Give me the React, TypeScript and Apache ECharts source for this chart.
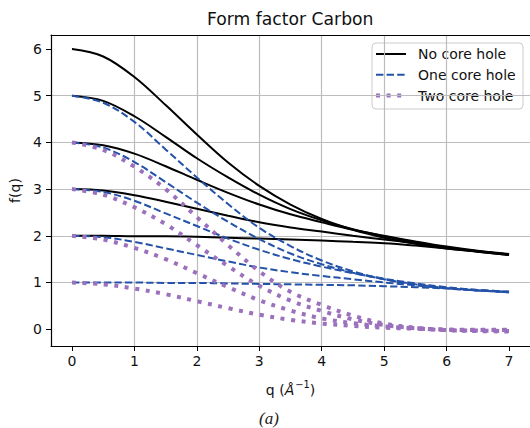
import React, { useEffect, useRef } from 'react';
import * as echarts from 'echarts';

// q grid (Å^-1)
const Q = [0, 0.5, 1, 1.5, 2, 2.5, 3, 3.5, 4, 4.5, 5, 5.5, 6, 6.5, 7];

// No core hole (1s2 + 4,3,2,1,0 valence electrons)
const noCore6 = [6.00, 5.84, 5.40, 4.80, 4.17, 3.57, 3.07, 2.67, 2.36, 2.13, 1.96, 1.83, 1.73, 1.66, 1.59];
const noCore5 = [5.00, 4.89, 4.56, 4.12, 3.66, 3.25, 2.88, 2.57, 2.33, 2.14, 1.99, 1.86, 1.75, 1.67, 1.60];
const noCore4 = [4.00, 3.94, 3.76, 3.49, 3.20, 2.92, 2.67, 2.46, 2.29, 2.13, 2.00, 1.88, 1.77, 1.68, 1.61];
const noCore3 = [3.00, 2.97, 2.87, 2.73, 2.58, 2.43, 2.29, 2.18, 2.09, 2.00, 1.92, 1.84, 1.75, 1.67, 1.60];
const noCore2 = [2.00, 2.00, 1.99, 1.99, 1.98, 1.96, 1.94, 1.92, 1.90, 1.87, 1.84, 1.79, 1.73, 1.66, 1.59];

// One core hole
const oneCore5 = [5.00, 4.85, 4.44, 3.85, 3.25, 2.68, 2.17, 1.78, 1.47, 1.24, 1.07, 0.95, 0.88, 0.83, 0.79];
const oneCore4 = [4.00, 3.89, 3.58, 3.15, 2.71, 2.30, 1.93, 1.62, 1.39, 1.21, 1.07, 0.96, 0.88, 0.83, 0.80];
const oneCore3 = [3.00, 2.94, 2.75, 2.48, 2.21, 1.94, 1.70, 1.50, 1.34, 1.20, 1.08, 0.98, 0.90, 0.84, 0.80];
const oneCore2 = [2.00, 1.97, 1.87, 1.73, 1.59, 1.45, 1.32, 1.22, 1.14, 1.07, 1.00, 0.94, 0.88, 0.84, 0.80];
const oneCore1 = [1.00, 1.00, 1.00, 0.99, 0.99, 0.98, 0.97, 0.96, 0.95, 0.94, 0.92, 0.90, 0.87, 0.83, 0.79];

// Two core hole
const twoCore4 = [4.00, 3.84, 3.48, 3.00, 2.40, 1.80, 1.24, 0.80, 0.52, 0.29, 0.12, 0.03, -0.02, -0.04, -0.05];
const twoCore3 = [3.00, 2.88, 2.61, 2.25, 1.80, 1.35, 0.93, 0.61, 0.39, 0.21, 0.09, 0.02, -0.02, -0.03, -0.04];
const twoCore2 = [2.00, 1.92, 1.74, 1.50, 1.20, 0.90, 0.62, 0.40, 0.23, 0.13, 0.06, 0.02, -0.01, -0.02, -0.02];
const twoCore1 = [1.00, 0.96, 0.87, 0.75, 0.60, 0.45, 0.31, 0.20, 0.12, 0.07, 0.03, 0.01, -0.01, -0.01, -0.01];

const X_TICKS = [0, 1, 2, 3, 4, 5, 6, 7];
const Y_TICKS = [0, 1, 2, 3, 4, 5, 6];

const NAMES = ['No core hole', 'One core hole', 'Two core hole'];

const FONT = 'DejaVu Sans';
const BLACK = '#000000';
const BLUE = '#2352a8';
const PURPLE = '#9b70bd';
const BLUE_DASH = [7.4, 3.2];
const PURPLE_DASH = [4, 6.6];

export default function App() {
  const ref = useRef<HTMLDivElement>(null);

  useEffect(() => {
    const chart = echarts.init(ref.current!, null, { renderer: 'svg' });

    const mk = (name: string, arr: number[], color: string, width: number, dash: any, z: number) => ({
      type: 'line',
      name,
      data: Q.map((q, i) => [q, arr[i]]),
      showSymbol: false,
      symbol: 'none',
      smooth: 0.35,
      silent: true,
      z,
      lineStyle: { color, width, type: dash, cap: 'butt' },
      itemStyle: { color },
      emphasis: { disabled: true },
    });

    const series: any[] = [];
    [noCore6, noCore5, noCore4, noCore3, noCore2].forEach((a) =>
      series.push(mk(NAMES[0], a, BLACK, 2, 'solid', 2))
    );
    [oneCore5, oneCore4, oneCore3, oneCore2, oneCore1].forEach((a) =>
      series.push(mk(NAMES[1], a, BLUE, 2, BLUE_DASH, 3))
    );
    [twoCore4, twoCore3, twoCore2, twoCore1].forEach((a) =>
      series.push(mk(NAMES[2], a, PURPLE, 4, PURPLE_DASH, 4))
    );

    const axisCommon = {
      axisLine: { show: true, onZero: false, lineStyle: { color: '#000', width: 1.2 } },
      splitLine: { show: true, showMinLine: false, showMaxLine: false, lineStyle: { color: '#bcbcc0', width: 1.2 } },
      minInterval: 1,
      maxInterval: 1,
    };
    const tickStyle = { show: true, length: 5, lineStyle: { color: '#000', width: 1 } };

    // legend drawn as graphic elements
    const legendX = 372;
    const legendY = 43;
    const rowY = [54, 74.8, 95.6];
    const legendStyles = [
      { stroke: BLACK, lineWidth: 2, lineDash: null as any },
      { stroke: BLUE, lineWidth: 2, lineDash: BLUE_DASH },
      { stroke: PURPLE, lineWidth: 4, lineDash: PURPLE_DASH },
    ];
    const legendChildren: any[] = [
      {
        type: 'rect',
        shape: { x: legendX, y: legendY, width: 151, height: 66, r: 4 },
        style: { fill: 'rgba(255,255,255,0.8)', stroke: '#cccccc', lineWidth: 1 },
      },
    ];
    NAMES.forEach((nm, i) => {
      legendChildren.push({
        type: 'line',
        shape: { x1: 376, y1: rowY[i], x2: 406, y2: rowY[i] },
        style: { ...legendStyles[i], lineCap: 'butt' },
      });
      legendChildren.push({
        type: 'text',
        x: 418,
        y: rowY[i],
        style: {
          text: nm,
          font: `14px "${FONT}"`,
          fill: '#111',
          textAlign: 'left',
          textVerticalAlign: 'middle',
        },
      });
    });

    chart.setOption({
      animation: false,
      backgroundColor: '#ffffff',
      textStyle: { fontFamily: FONT },
      title: {
        text: 'Form factor Carbon',
        left: 207,
        top: 10,
        padding: 0,
        textStyle: { fontFamily: FONT, fontSize: 17.2, fontWeight: 'normal', color: '#111' },
      },
      grid: { left: 51, top: 35, width: 479, height: 311, containLabel: false },
      xAxis: [
        {
          type: 'value',
          min: -0.336,
          max: 7.336,
          ...axisCommon,
          axisLabel: {
            customValues: X_TICKS,
            fontFamily: FONT,
            fontSize: 14,
            color: '#111',
            margin: 8,
            formatter: (v: number) => String(v),
          },
          axisTick: { ...tickStyle, customValues: X_TICKS },
          name: '{n|q (}{i|Å}{s|−1}{n|)}',
          nameLocation: 'middle',
          nameGap: 33,
          nameTextStyle: {
            rich: {
              n: { fontFamily: FONT, fontSize: 14, color: '#111', lineHeight: 18, verticalAlign: 'bottom' },
              i: { fontFamily: FONT, fontSize: 14, fontStyle: 'italic', color: '#111', lineHeight: 18, verticalAlign: 'bottom' },
              s: { fontFamily: FONT, fontSize: 9.8, color: '#111', lineHeight: 18, verticalAlign: 'top', padding: [0, 0, 0, 1] },
            },
          },
        },
        {
          type: 'value',
          position: 'top',
          min: -0.336,
          max: 7.336,
          axisLine: { show: true, onZero: false, lineStyle: { color: '#000', width: 1.2 } },
          axisTick: { show: false },
          axisLabel: { show: false },
          splitLine: { show: false },
        },
      ],
      yAxis: {
        type: 'value',
        min: -0.36,
        max: 6.3,
        ...axisCommon,
        axisLabel: {
          customValues: Y_TICKS,
          fontFamily: FONT,
          fontSize: 14,
          color: '#111',
          margin: 9,
          formatter: (v: number) => String(v),
        },
        axisTick: { ...tickStyle, customValues: Y_TICKS },
        name: 'f(q)',
        nameLocation: 'middle',
        nameGap: 21,
        nameTextStyle: { fontFamily: FONT, fontSize: 14, color: '#111' },
      },
      graphic: [
        { type: 'group', z: 100, children: legendChildren },
        {
          type: 'text',
          x: 269,
          y: 418,
          style: {
            text: '(a)',
            font: 'italic 17px "Liberation Serif", "DejaVu Serif", serif',
            fill: '#222',
            textAlign: 'center',
            textVerticalAlign: 'middle',
          },
        },
      ],
      series,
    });

    return () => chart.dispose();
  }, []);

  return (
    <div
      ref={ref}
      style={{ position: 'fixed', left: 0, top: 0, width: 530, height: 428, background: '#fff' }}
    />
  );
}
